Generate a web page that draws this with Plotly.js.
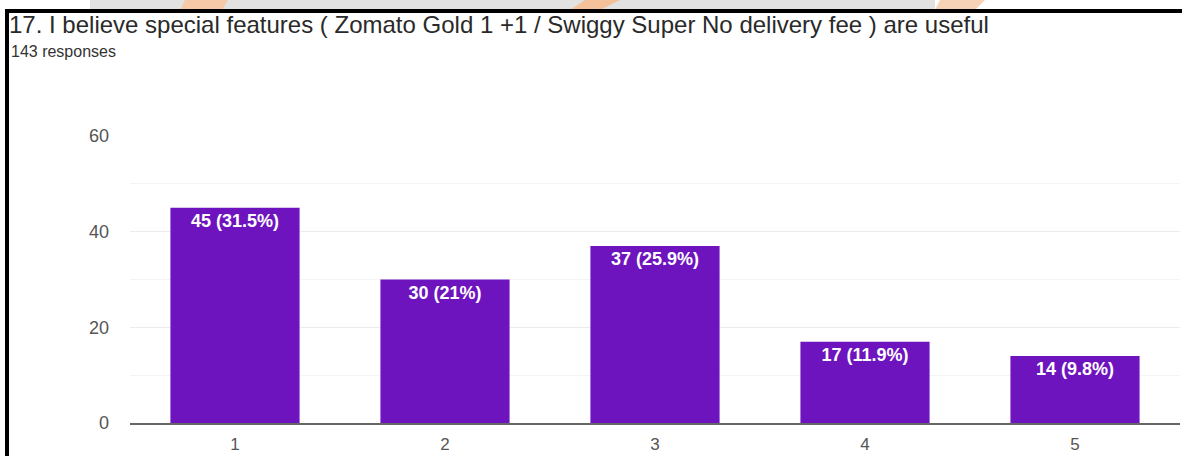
<!DOCTYPE html>
<html>
<head>
<meta charset="utf-8">
<script src="https://cdn.plot.ly/plotly-3.0.1.min.js"></script>
<style>
  html, body { margin: 0; padding: 0; background: #fff; }
  #chart { width: 1182px; height: 456px; }
</style>
</head>
<body>
<div id="chart"></div>
<script>
// ---- data ----
const categories = ["1", "2", "3", "4", "5"];
const counts = [45, 30, 37, 17, 14];
const totalResponses = 143;
const titleText = "17. I believe special features ( Zomato Gold 1 +1 / Swiggy Super No delivery fee ) are useful";
const subtitleText = "143 responses";
const yTickValues = [0, 20, 40, 60];

// ---- derived labels ----
const barLabels = counts.map(v => {
  let p = (v / totalResponses * 100).toFixed(1);
  if (p.endsWith(".0")) p = p.slice(0, -2);
  return v + " (" + p + "%)";
});

// ---- geometry helpers (plot area in pixels) ----
const W = 1182, H = 456;
const M = { l: 130, r: 2, t: 136, b: 33 };
const pw = W - M.l - M.r, ph = H - M.t - M.b;
const px = x => (x - M.l) / pw;
const py = y => (H - M.b - y) / ph;

const trace = {
  type: "bar",
  x: categories,
  y: counts,
  text: barLabels,
  textposition: "inside",
  insidetextanchor: "end",
  textangle: 0,
  textfont: { family: "Arial, 'Liberation Sans', sans-serif", size: 18, color: "#ffffff", weight: "bold" },
  marker: { color: "#6e14bf", line: { width: 0 } },
  width: 0.615,
  hoverinfo: "skip",
  cliponaxis: false
};

const shapes = [
  // watermark strip at top
  { type: "rect", xref: "paper", yref: "paper", x0: px(90), x1: px(935), y0: py(0), y1: py(10), fillcolor: "#e2e2e2", line: { width: 0 }, layer: "below" },
  { type: "path", xref: "paper", yref: "paper", path: `M ${px(185)} ${py(0)} L ${px(228)} ${py(0)} L ${px(222)} ${py(10)} L ${px(180)} ${py(10)} Z`, fillcolor: "#f6c9a8", line: { width: 0 }, layer: "below" },
  { type: "path", xref: "paper", yref: "paper", path: `M ${px(585)} ${py(0)} L ${px(620)} ${py(0)} L ${px(600)} ${py(10)} L ${px(570)} ${py(10)} Z`, fillcolor: "#f4c19a", line: { width: 0 }, layer: "below" },
  { type: "path", xref: "paper", yref: "paper", path: `M ${px(940)} ${py(0)} L ${px(985)} ${py(0)} L ${px(975)} ${py(10)} L ${px(935)} ${py(10)} Z`, fillcolor: "#f7d2b6", line: { width: 0 }, layer: "below" },
  // black frame: top and left
  { type: "rect", xref: "paper", yref: "paper", x0: px(5), x1: px(1182), y0: py(13), y1: py(9), fillcolor: "#000", line: { width: 0 } },
  { type: "rect", xref: "paper", yref: "paper", x0: px(5), x1: px(9), y0: py(456), y1: py(9), fillcolor: "#000", line: { width: 0 } }
];

const layout = {
  width: W,
  height: H,
  margin: M,
  paper_bgcolor: "#ffffff",
  plot_bgcolor: "#ffffff",
  showlegend: false,
  font: { family: "Arial, 'Liberation Sans', sans-serif", color: "#444" },
  title: {
    text: titleText,
    font: { family: "'Liberation Sans', Arial, sans-serif", size: 24, color: "#2a2a2a" },
    xref: "container", x: 9 / W, xanchor: "left",
    yref: "container", y: 1 - 16 / H, yanchor: "top",
    pad: { t: 0, b: 0, l: 0, r: 0 }
  },
  annotations: [
    {
      text: subtitleText, showarrow: false,
      xref: "paper", yref: "paper", x: px(9), y: py(51),
      xanchor: "left", yanchor: "middle",
      font: { family: "'Liberation Sans', Arial, sans-serif", size: 16, color: "#333" }
    }
  ],
  shapes: shapes,
  xaxis: {
    type: "category",
    range: [-0.5, 4.5],
    showgrid: false,
    zeroline: false,
    showline: true,
    linecolor: "#666",
    linewidth: 2,
    ticks: "",
    ticklabelstandoff: 5,
    tickfont: { size: 17, color: "#555" },
    fixedrange: true
  },
  yaxis: {
    range: [0, 60],
    tickvals: yTickValues,
    showgrid: true,
    gridcolor: "#ebebeb",
    gridwidth: 1,
    minor: { dtick: 10, showgrid: true, gridcolor: "#f4f4f4", gridwidth: 1 },
    zeroline: false,
    showline: false,
    ticks: "",
    ticklabelstandoff: 20,
    tickfont: { size: 18, color: "#555" },
    fixedrange: true
  },
  bargap: 0.385
};

Plotly.newPlot("chart", [trace], layout, { displayModeBar: false, staticPlot: true });
</script>
</body>
</html>
